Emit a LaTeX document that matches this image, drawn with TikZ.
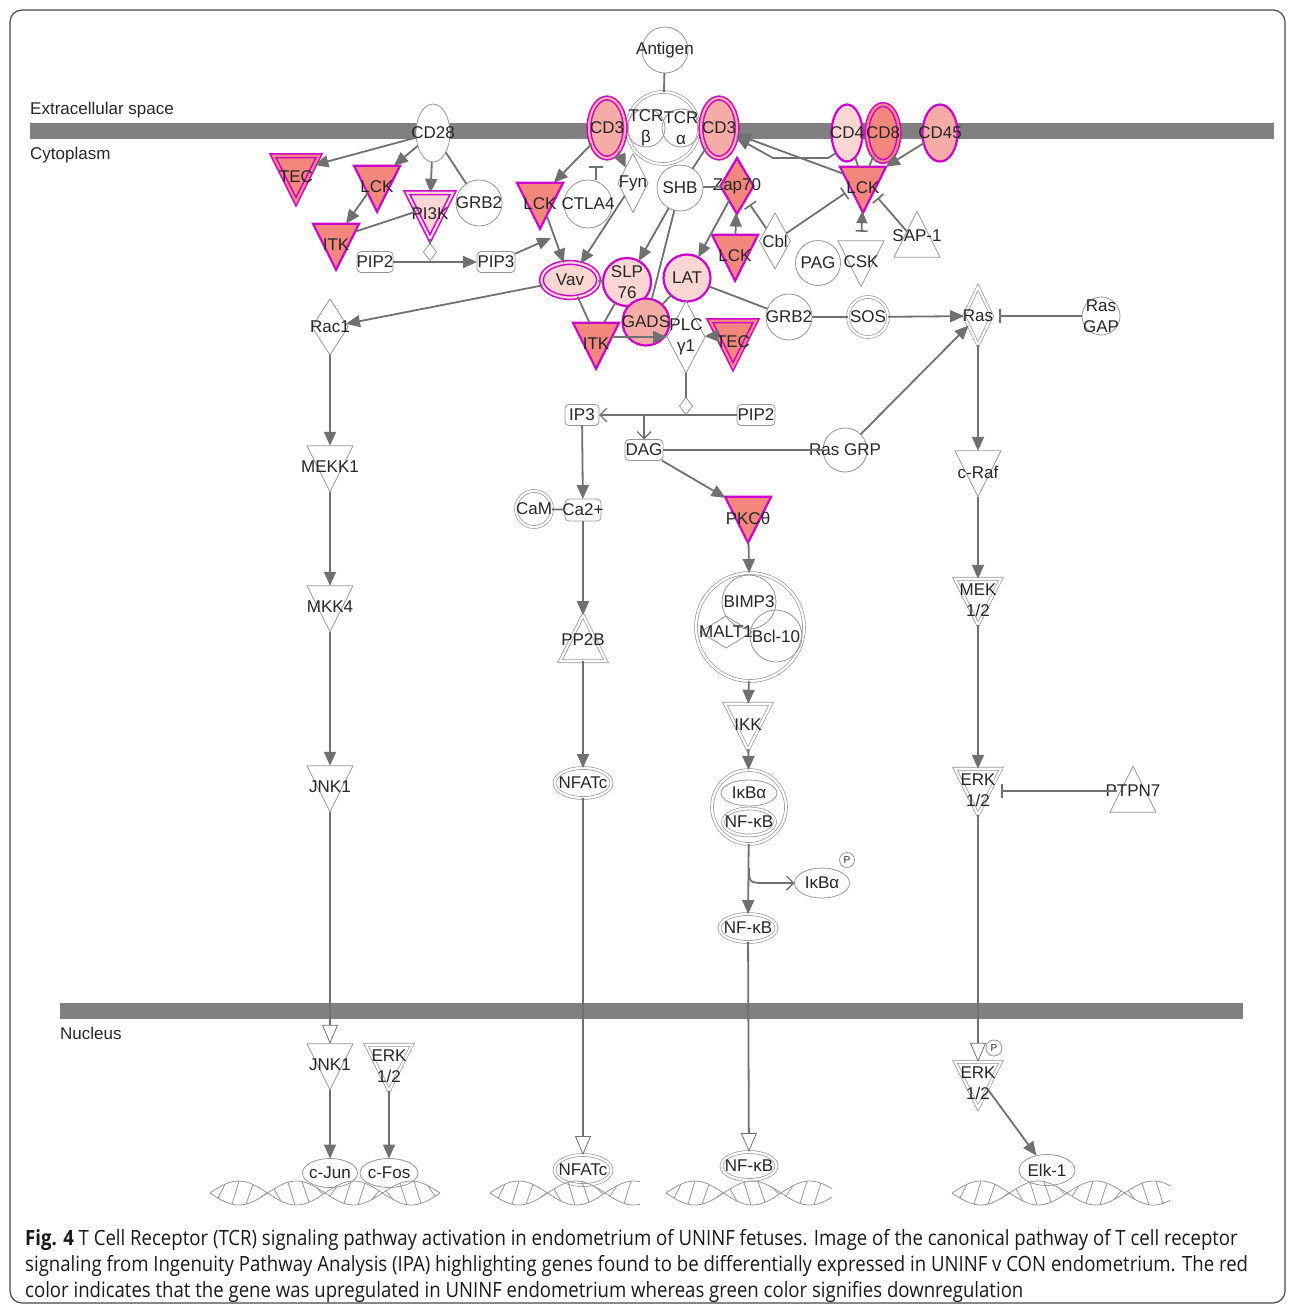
\documentclass[tikz,border=0pt]{standalone}
\usepackage{fontspec}
\setmainfont{Liberation Sans}
\newfontfamily\capfont[FakeStretch=0.885]{Open Sans}
\usetikzlibrary{shapes.geometric,arrows.meta}

\definecolor{linegray}{RGB}{112,112,112}
\definecolor{nodegray}{RGB}{150,150,150}
\definecolor{barfill}{RGB}{128,128,128}
\definecolor{framegray}{RGB}{70,70,70}
\definecolor{mag}{RGB}{204,0,204}
\definecolor{upS}{RGB}{243,135,126}
\definecolor{upM}{RGB}{246,172,166}
\definecolor{upL}{RGB}{251,214,210}

\tikzset{
  every node/.style={font=\fontsize{17}{21}\selectfont, text=black!85},
  lbl/.style={align=center, inner sep=0pt},
  tx/.style={label={[lbl]center:#1}},
  txd/.style={label={[lbl,yshift=-7pt]center:#1}},
  txu/.style={label={[lbl,yshift=7pt]center:#1}},
  gene/.style={draw=nodegray, line width=0.8pt, fill=white, inner sep=0pt, outer sep=0pt},
  dbl/.style={double=white, double distance=2.2pt, line width=0.7pt},
  up/.style={draw=mag, line width=2.2pt, fill=#1},
  updbl/.style={draw=mag, line width=1.5pt, double=#1, double distance=2.2pt, fill=#1},
  circ/.style={gene, circle, minimum size=#1},
  ell/.style 2 args={gene, ellipse, minimum width=#1, minimum height=#2},
  tri/.style={gene, isosceles triangle, isosceles triangle stretches, shape border rotate=270, minimum width=46pt, minimum height=46pt},
  triu/.style={gene, isosceles triangle, isosceles triangle stretches, shape border rotate=90, minimum width=46pt, minimum height=46pt},
  kin/.style 2 args={gene, diamond, minimum width=#1, minimum height=#2},
  box/.style={gene, rectangle, rounded corners=4pt, minimum width=#1, minimum height=21pt},
  rx/.style={gene, diamond, minimum width=13pt, minimum height=17pt},
  lnk/.style={draw=linegray, line width=1.8pt},
  act/.style={lnk, -{Triangle[length=14pt,width=12pt]}},
  inh/.style={lnk, -{Bar[width=14pt,line width=1.6pt]}, shorten >=7pt},
  mem/.style={lnk, -{Triangle[length=19pt,width=16pt,fill=white,line width=0.8pt]}},
  rxn/.style={lnk, -{Straight Barb[length=7pt,width=14pt,line width=1.4pt]}},
  membrane/.style={fill=barfill},
  area/.style={anchor=west, inner sep=0pt},
  dna/.style={draw=nodegray, line width=0.8pt},
  caption/.style={anchor=base west, inner sep=0pt, font=\capfont\fontsize{21}{24}\selectfont, text=black!90},
}

\begin{document}
\begin{tikzpicture}[x=1pt,y=-1pt]
\useasboundingbox (0,0) rectangle (1295,1309);
\draw[framegray, line width=1.2pt, rounded corners=12pt] (10,10) rectangle (1285,1303);

% Membranes
\fill[membrane] (30,123) rectangle (1274,139);
\fill[membrane] (60,1003) rectangle (1243,1019);
\node[area] (extra) at (30,110) {Extracellular space};
\node[area] (cyto) at (30,155) {Cytoplasm};
\node[area] (nucl) at (60,1033) {Nucleus};

% Receptor
\node[circ=46pt, tx=Antigen] (antigen) at (665,50) {};
\node[circ=72pt, dbl] (tcr) at (663,128) {};
\node[circ=38pt, fill=none, tx={TCR\\β}] (tcrb) at (646,128) {};
\node[circ=38pt, fill=none, tx={TCR\\α}] (tcra) at (681,128) {};
\node[ell={36pt}{60pt}, updbl=upM, tx=CD3] (cd3l) at (607,128) {};
\node[ell={36pt}{60pt}, updbl=upM, tx=CD3] (cd3r) at (719,128) {};
\node[ell={34pt}{58pt}, tx=CD28] (cd28) at (433,133) {};
\node[ell={31pt}{57pt}, up=upL, tx=CD4] (cd4) at (847,133) {};
\node[ell={32pt}{57pt}, updbl=upS, tx=CD8] (cd8) at (883,133) {};
\node[ell={35pt}{57pt}, up=upM, tx=CD45] (cd45) at (940,133) {};

% CD28 branch
\node[tri, updbl=upS, txd=TEC] (teca) at (296,170) {};
\node[tri, up=upS, txd=LCK] (lcka) at (377,180) {};
\node[tri, updbl=upL, txd=PI3K] (pi3k) at (430,207) {};
\node[circ=46pt, tx=GRB2] (grb2a) at (479,203) {};
\node[tri, up=upS, txd=ITK] (itka) at (336,238) {};
\node[box=36pt, tx=PIP2] (pip2a) at (375,262) {};
\node[box=38pt, tx=PIP3] (pip3) at (496,262) {};
\node[rx] (rxa) at (430,252) {};

% TCR branch
\node[tri, up=upS, txd=LCK] (lckb) at (540,197) {};
\node[circ=48pt, tx=CTLA4] (ctla4) at (588,204) {};
\node[kin={30pt}{59pt}, tx=Fyn] (fyn) at (633,183) {};
\node[circ=46pt, tx=SHB] (shb) at (680,188) {};
\node[kin={33pt}{56pt}, up=upS, tx=Zap70] (zap70) at (737,186) {};
\node[tri, up=upS, txd=LCK] (lckc) at (735,249) {};
\node[kin={31pt}{56pt}, tx=Cbl] (cbl) at (775,241) {};
\node[circ=45pt, tx=PAG] (pag) at (818,263) {};
\node[tri, txd=CSK] (csk) at (861,255) {};
\node[triu, txu=SAP-1] (sap1) at (917,243) {};
\node[tri, up=upS, txd=LCK] (lckd) at (863,181) {};
\node[ell={57pt}{35pt}, updbl=upL, tx=Vav] (vav) at (570,280) {};
\node[circ=48pt, up=upL, tx={SLP\\76}] (slp76) at (627,282) {};
\node[circ=47pt, up=upL, tx=LAT] (lat) at (687,278) {};
\node[kin={38pt}{72pt}, tx={PLC\\γ1}] (plc) at (686,337) {};
\node[circ=47pt, up=upM, tx=GADS] (gads) at (646,322) {};
\node[tri, up=upS, txd=ITK] (itkb) at (596,337) {};
\node[tri, updbl=upS, txd=TEC] (tecb) at (733,335) {};
\node[circ=46pt, tx=GRB2] (grb2b) at (789,317) {};
\node[circ=40pt, dbl, tx=SOS] (sos) at (868,317) {};
\node[kin={28pt}{58pt}, dbl, tx=Ras] (ras) at (978,316) {};
\node[circ=38pt, tx={Ras\\GAP}] (rasgap) at (1101,316) {};
\node[kin={36pt}{56pt}, tx=Rac1] (rac1) at (330,327) {};

% Second messengers
\node[rx] (rxb) at (686,406) {};
\node[box=34pt, tx=IP3] (ip3) at (582,415) {};
\node[box=38pt, tx=PIP2] (pip2b) at (756,415) {};
\node[box=38pt, tx=DAG] (dag) at (644,450) {};
\node[circ=44pt, tx={Ras GRP}] (rasgrp) at (845,450) {};
\node[circ=36pt, dbl, tx=CaM] (cam) at (534,509) {};
\node[box=36pt, minimum height=22pt, tx=Ca2+] (ca2) at (583,510) {};
\node[tri, up=upS, txd=PKCθ] (pkc) at (748,511) {};
\node[tri, txd=MEKK1] (mekk1) at (330,460) {};
\node[tri, txd=c-Raf] (craf) at (978,465) {};
\node[tri, txd=MKK4] (mkk4) at (330,600) {};
\node[triu, dbl, txu=PP2B] (pp2b) at (583,647) {};
\node[tri, dbl, txd={MEK\\1/2}] (mek) at (978,593) {};
\node[circ=108pt, dbl] (bimp) at (750,627) {};
\node[circ=54pt, fill=none, tx=BIMP3] (bimp3) at (749,602) {};
\node[kin={52pt}{32pt}, fill=none, tx=MALT1] (malt1) at (726,632) {};
\node[circ=52pt, fill=none, tx=Bcl-10] (bcl10) at (776,636) {};
\node[tri, dbl, txd=IKK] (ikk) at (748,718) {};
\node[tri, txd=JNK1] (jnk1a) at (330,780) {};
\node[ell={57pt}{30pt}, dbl, tx=NFATc] (nfatca) at (583,783) {};
\node[circ=74pt, dbl] (ikbc) at (749,807) {};
\node[ell={56pt}{26pt}, fill=none, tx=IκBα] (ikba) at (749,793) {};
\node[ell={52pt}{27pt}, dbl, fill=none, tx=NF-κB] (nfkba) at (749,822) {};
\node[tri, dbl, txd={ERK\\1/2}] (erka) at (978,783) {};
\node[triu, txu=PTPN7] (ptpn7) at (1133,798) {};
\node[ell={55pt}{30pt}, tx=IκBα] (ikbp) at (822,883) {};
\node[circ=15pt, label={[lbl,font=\fontsize{10}{10}\selectfont]center:P}] (pa) at (847,860) {};
\node[ell={57pt}{28pt}, dbl, tx=NF-κB] (nfkbb) at (748,928) {};

% Nucleus
\node[tri, txd=JNK1] (jnk1b) at (330,1058) {};
\node[tri, dbl, txd={ERK\\1/2}] (erkb) at (389,1059) {};
\node[tri, dbl, txd={ERK\\1/2}] (erkc) at (978,1076) {};
\node[circ=16pt, label={[lbl,font=\fontsize{10}{10}\selectfont]center:P}] (pb) at (994,1048) {};
\node[ell={55pt}{29pt}, tx=c-Jun] (cjun) at (330,1173) {};
\node[ell={58pt}{29pt}, tx=c-Fos] (cfos) at (389,1173) {};
\node[ell={57pt}{30pt}, dbl, tx=NFATc] (nfatcb) at (583,1170) {};
\node[ell={55pt}{28pt}, dbl, tx=NF-κB] (nfkbc) at (749,1166) {};
\node[ell={56pt}{31pt}, tx=Elk-1] (elk1) at (1047,1170) {};

\coordinate (pip3end) at (551,238);
\coordinate (ctlatop) at (596,166);
\coordinate (dagfork) at (644,415);
\coordinate (ikbfork) at (749,868);

% Edges
\draw[lnk] (antigen) -- (tcr);
\draw[act] (cd28) -- (teca);
\draw[act] (cd28) -- (lcka);
\draw[act] (cd28) -- (pi3k);
\draw[lnk] (cd28) -- (grb2a);
\draw[act] (lcka) -- (itka);
\draw[lnk] (itka) -- (pi3k);
\draw[act] (pip2a) -- (pip3);
\draw[lnk] (pi3k) -- (rxa);
\draw[act] (pip3) -- (pip3end);
\draw[act] (cd3l) -- (lckb);
\draw[act] (cd3l) -- (fyn);
\draw[lnk, -{Bar[width=14pt,line width=1.6pt]}] (ctla4.north -| ctlatop) -- (ctlatop);
\draw[act] (lckb) -- (vav);
\draw[act] (fyn) -- (vav);
\draw[act] (shb) -- (slp76);
\draw[lnk] (shb) -- (gads);
\draw[lnk] (cd3r) -- (shb);
\draw[lnk] (shb) -- (zap70);
\draw[act] (zap70) -- (lat);
\draw[act] (lckc) -- (zap70);
\draw[inh] (cbl) -- (zap70);
\draw[inh] (cbl) -- (lckd);
\draw[act] (cd45) -- (lckd);
\draw[lnk] (cd4) -- (lckd);
\draw[lnk] (cd8) -- (lckd);
\draw[act] (lckd) -- (cd3r);
\draw[act] (cd4.south west) -- (828,158) -- (773,158) -- (cd3r);
\draw[lnk, {Bar[width=12pt,line width=1.6pt]}-{Triangle[length=12pt,width=11pt]}, shorten <=9pt] (csk) -- (lckd);
\draw[inh] (sap1) -- (lckd);
\draw[lnk] (vav) -- (slp76);
\draw[lnk] (vav) -- (itkb);
\draw[lnk] (slp76) -- (itkb);
\draw[lnk] (gads) -- (lat);
\draw[lnk] (lat) -- (plc);
\draw[lnk] (lat) -- (grb2b);
\draw[act] (itkb) -- (plc);
\draw[act] (tecb) -- (plc);
\draw[lnk] (grb2b) -- (sos);
\draw[act] (sos) -- (ras);
\draw[inh] (rasgap) -- (ras);
\draw[act] (rasgrp) -- (ras);
\draw[act] (vav) -- (rac1);
\draw[act] (rac1) -- (mekk1);
\draw[act] (mekk1) -- (mkk4);
\draw[act] (mkk4) -- (jnk1a);
\draw[mem] (jnk1a) -- (jnk1b);
\draw[lnk] (plc) -- (rxb);
\draw[rxn] (pip2b) -- (ip3);
\draw[rxn] (dagfork) -- (dag);
\draw[act] (ip3) -- (ca2);
\draw[lnk] (cam) -- (ca2);
\draw[act] (ca2) -- (pp2b);
\draw[act] (pp2b) -- (nfatca);
\draw[mem] (nfatca) -- (nfatcb);
\draw[lnk] (dag) -- (rasgrp);
\draw[act] (dag) -- (pkc);
\draw[act] (pkc) -- (bimp);
\draw[act] (bimp) -- (ikk);
\draw[act] (ikk) -- (ikbc);
\draw[act] (ikbc) -- (nfkbb);
\draw[rxn] (ikbfork) .. controls (749,883) .. (768,883) -- (ikbp);
\draw[mem] (nfkbb) -- (nfkbc);
\draw[act] (ras) -- (craf);
\draw[act] (craf) -- (mek);
\draw[act] (mek) -- (erka);
\draw[inh] ([yshift=7pt]ptpn7.west) -- ([yshift=7pt]ptpn7.west -| erka.east);
\draw[mem] (erka) -- (erkc);
\draw[act] (jnk1b) -- (cjun);
\draw[act] (erkb) -- (cfos);
\draw[act] (erkc) -- (elk1);

% DNA
\foreach \xa/\xb/\n in {210/440/16, 490/640/10, 666/832/11, 952/1170/15} {
  \draw[dna] plot[domain=\xa:\xb, samples=80, smooth] (\x, {1193+12*sin(3.13*(\x-\xa))});
  \draw[dna] plot[domain=\xa:\xb, samples=80, smooth] (\x, {1193-12*sin(3.13*(\x-\xa))});
  \foreach \k in {1,...,\n} {
    \pgfmathsetmacro\ha{\xa+14*\k-6}
    \pgfmathsetmacro\hb{\ha+7}
    \draw[dna] (\ha, {1193+12*sin(3.13*(\ha-\xa))}) -- (\hb, {1193-12*sin(3.13*(\hb-\xa))});
  }
}

% Caption
\node[caption] (cap1) at (25,1245) {\textbf{Fig. 4} T Cell Receptor (TCR) signaling pathway activation in endometrium of UNINF fetuses. Image of the canonical pathway of T cell receptor};
\node[caption] (cap2) at (25,1271) {signaling from Ingenuity Pathway Analysis (IPA) highlighting genes found to be differentially expressed in UNINF v CON endometrium. The red};
\node[caption] (cap3) at (25,1297) {color indicates that the gene was upregulated in UNINF endometrium whereas green color signifies downregulation};
\end{tikzpicture}
\end{document}
